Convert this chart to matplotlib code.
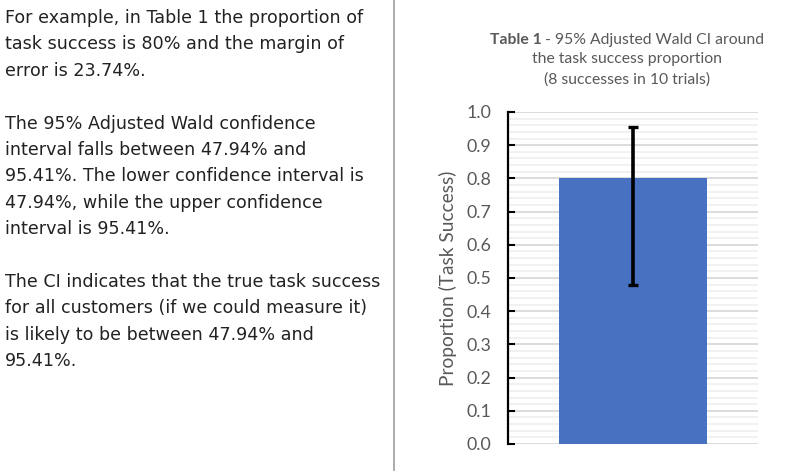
import matplotlib
matplotlib.use("Agg")
import matplotlib.pyplot as plt
from matplotlib.ticker import MultipleLocator
import numpy as np

# ---- data ----
categories = ["Task success"]
proportion = [0.80]
ci_lower = [0.4794]
ci_upper = [0.9541]
y_ticks = [0.0, 0.1, 0.2, 0.3, 0.4, 0.5, 0.6, 0.7, 0.8, 0.9, 1.0]
y_tick_labels = ["0.0", "0.1", "0.2", "0.3", "0.4", "0.5", "0.6", "0.7", "0.8", "0.9", "1.0"]

title_bold = "Table 1"
title_rest = [" - 95% Adjusted Wald CI around", "the task success proportion", "(8 successes in 10 trials)"]
y_label = "Proportion (Task Success)"

paragraphs = [
    ["For example, in Table 1 the proportion of",
     "task success is 80% and the margin of",
     "error is 23.74%."],
    ["The 95% Adjusted Wald confidence",
     "interval falls between 47.94% and",
     "95.41%. The lower confidence interval is",
     "47.94%, while the upper confidence",
     "interval is 95.41%."],
    ["The CI indicates that the true task success",
     "for all customers (if we could measure it)",
     "is likely to be between 47.94% and",
     "95.41%."],
]

W, H = 786, 471
fig = plt.figure(figsize=(W / 100, H / 100), dpi=100)
fig.patch.set_facecolor("white")

# ---- left text column ----
text_color = "#222222"
y0 = 18
step = 26.4
line_idx = 0
for p in paragraphs:
    for line in p:
        fig.text(5 / W, 1 - (y0 + line_idx * step) / H, line, fontsize=12.6,
                 family="DejaVu Sans", color=text_color, va="center", ha="left")
        line_idx += 1
    line_idx += 1

# divider
fig.add_artist(plt.Line2D([394 / W, 394 / W], [1 - 470 / H, 1.0], color="#a6a6a6",
                          lw=1.3, transform=fig.transFigure))

# ---- chart ----
chart_font = "Lato"
gray = "#595959"
ax = fig.add_axes([508 / W, 1 - 444 / H, (758 - 508) / W, (444 - 112) / H])
x = np.arange(len(categories))
yerr = np.array([[p - l for p, l in zip(proportion, ci_lower)],
                 [u - p for p, u in zip(proportion, ci_upper)]])
ax.bar(x, proportion, width=0.592, color="#4872C1", zorder=3)
ax.errorbar(x, proportion, yerr=yerr, fmt="none", ecolor="black", elinewidth=2.6,
            capsize=3.6, capthick=2.4, zorder=4)
ax.set_xlim(-0.5, 0.5)
ax.set_ylim(0, 1.0)
ax.set_yticks(y_ticks)
ax.set_yticklabels(y_tick_labels, family=chart_font, fontsize=12.8, color=gray)
ax.yaxis.set_minor_locator(MultipleLocator(0.02))
ax.set_xticks([])
ax.tick_params(axis="y", which="major", direction="in", length=5, width=1.5,
               color="black", pad=12)
ax.tick_params(axis="y", which="minor", length=0)
ax.grid(axis="y", which="minor", color="#f0f0f0", lw=1.3, zorder=0)
ax.grid(axis="y", which="major", color="#d9d9d9", lw=1.3, zorder=1)
for s in ["top", "right", "bottom"]:
    ax.spines[s].set_visible(False)
ax.spines["left"].set_linewidth(1.6)
ax.spines["left"].set_color("black")
ax.spines["left"].set_zorder(5)
fig.text(448 / W, 1 - 278 / H, y_label, family=chart_font, fontsize=13.8, color=gray,
         rotation=90, ha="center", va="center")

# ---- title ----
fig.canvas.draw()
r = fig.canvas.get_renderer()
cx = 627
tfs = 11.3
tb = fig.text(0, 0, title_bold, family=chart_font, fontsize=tfs, weight="bold",
              color=gray, va="center", ha="left")
tr = fig.text(0, 0, title_rest[0], family=chart_font, fontsize=tfs, color=gray,
              va="center", ha="left")
wb = tb.get_window_extent(r).width
wr = tr.get_window_extent(r).width
start = cx - (wb + wr) / 2
ty = [40, 59.5, 79.5]
tb.set_position((start / W, 1 - ty[0] / H))
tr.set_position(((start + wb) / W, 1 - ty[0] / H))
for i in (1, 2):
    fig.text(cx / W, 1 - ty[i] / H, title_rest[i], family=chart_font, fontsize=tfs,
             color=gray, va="center", ha="center")

fig.savefig("out.png", dpi=100, facecolor="white")
